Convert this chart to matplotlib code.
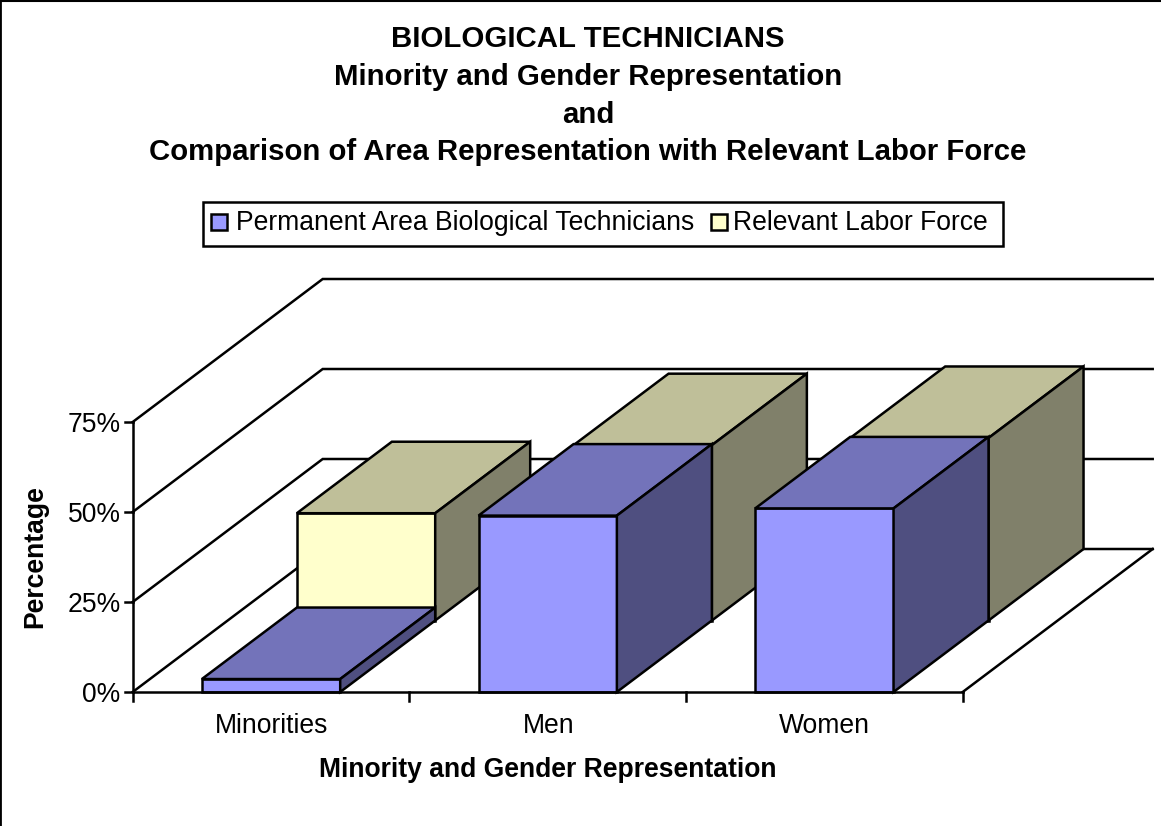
import matplotlib
matplotlib.use("Agg")
import matplotlib.pyplot as plt
from matplotlib.patches import Polygon, Rectangle

plt.rcParams['font.family'] = ['Liberation Sans', 'DejaVu Sans']

title_lines = ["BIOLOGICAL TECHNICIANS", "Minority and Gender Representation", "and",
               "Comparison of Area Representation with Relevant Labor Force"]
categories = ["Minorities", "Men", "Women"]
series_names = ["Permanent Area Biological Technicians", "Relevant Labor Force"]
permanent = [3.6, 49.0, 51.0]
labor_force = [29.8, 48.7, 50.7]
y_ticks = [0, 25, 50, 75]
x_label = "Minority and Gender Representation"
y_label = "Percentage"

W, H = 1161, 826
fig = plt.figure(figsize=(W / 100, H / 100), dpi=100)
ax = fig.add_axes([0, 0, 1, 1])
ax.set_xlim(0, W)
ax.set_ylim(H, 0)
ax.axis('off')

X0, Y0 = 132.7, 692.0
CAT_W = 830.0 / 3
PER_PCT = 3.6
DX, DY = 190.0, -143.0
LW = 1.8
BLACK = 'black'
TICK_FS = 19.1
LABEL_FS = 19.1
TITLE_FS = 21.2


def proj(c, v, d):
    return (X0 + c * CAT_W + d * DX, Y0 - v * PER_PCT + d * DY)


def line(pts, lw=LW, z=1):
    ax.plot([p[0] for p in pts], [p[1] for p in pts], color=BLACK, lw=lw, zorder=z,
            solid_capstyle='projecting', solid_joinstyle='miter')


# walls and floor
for v in y_ticks:
    line([proj(0, v, 0), proj(0, v, 1), proj(3, v, 1)])
line([proj(3, 0, 0), proj(3, 0, 1)])
line([proj(0, 0, 0), proj(0, 75, 0)], z=5)

# axis ticks
for v in y_ticks:
    px, py = proj(0, v, 0)
    line([(px - 8, py), (px, py)], z=5)
    ax.text(px - 12, py + 3, f"{v}%", ha='right', va='center', fontsize=TICK_FS, color=BLACK)
for i in range(4):
    px, py = proj(i, 0, 0)
    line([(px, py), (px, py + 9)], z=5)
for i, c in enumerate(categories):
    px, py = proj(i + 0.5, 0, 0)
    ax.text(px + 0.5, py + 34, c, ha='center', va='center', fontsize=TICK_FS, color=BLACK)


def bar3d(c, val, d0, d1, front, top, side, z):
    x0, x1 = c + 0.25, c + 0.75
    faces = [
        ([(x0, 0, d0), (x1, 0, d0), (x1, val, d0), (x0, val, d0)], front),
        ([(x0, val, d0), (x1, val, d0), (x1, val, d1), (x0, val, d1)], top),
        ([(x1, 0, d0), (x1, 0, d1), (x1, val, d1), (x1, val, d0)], side),
    ]
    for pts, col in faces:
        ax.add_patch(Polygon([proj(*p) for p in pts], closed=True, facecolor=col,
                             edgecolor=BLACK, lw=LW, joinstyle='miter', zorder=z))


for i, v in enumerate(labor_force):
    bar3d(i, v, 0.5, 1.0, '#FFFFCC', '#BFBF99', '#80806A', 2)
for i, v in enumerate(permanent):
    bar3d(i, v, 0.0, 0.5, '#9999FF', '#7373BA', '#4F4F80', 3)
line([proj(0, 0, 0), proj(3, 0, 0)], z=5)

# titles
for txt, y in zip(title_lines, [39, 77, 115, 152]):
    ax.text(588, y, txt, ha='center', va='center', fontsize=TITLE_FS, fontweight='bold', color=BLACK)
ax.text(548, 770, x_label, ha='center', va='center', fontsize=LABEL_FS, fontweight='bold', color=BLACK)
ax.text(35, 557, y_label, ha='center', va='center', rotation=90, fontsize=LABEL_FS,
        fontweight='bold', color=BLACK)

# legend
ax.add_patch(Rectangle((202.5, 201.5), 800, 44, facecolor='white', edgecolor=BLACK, lw=LW, zorder=6))
for sx, tx, col, name in [(211, 236, '#9999FF', series_names[0]), (711, 733, '#FFFFCC', series_names[1])]:
    ax.add_patch(Rectangle((sx, 214), 16, 16, facecolor=col, edgecolor=BLACK, lw=LW, zorder=7))
    ax.text(tx, 223.5, name, ha='left', va='center', fontsize=TICK_FS, color=BLACK, zorder=7)

# chart area border
ax.plot([0, 0], [0, H], color=BLACK, lw=2, clip_on=True)
ax.plot([0, W], [1, 1], color=BLACK, lw=1.5, clip_on=True)

fig.savefig("out.png", dpi=100)
